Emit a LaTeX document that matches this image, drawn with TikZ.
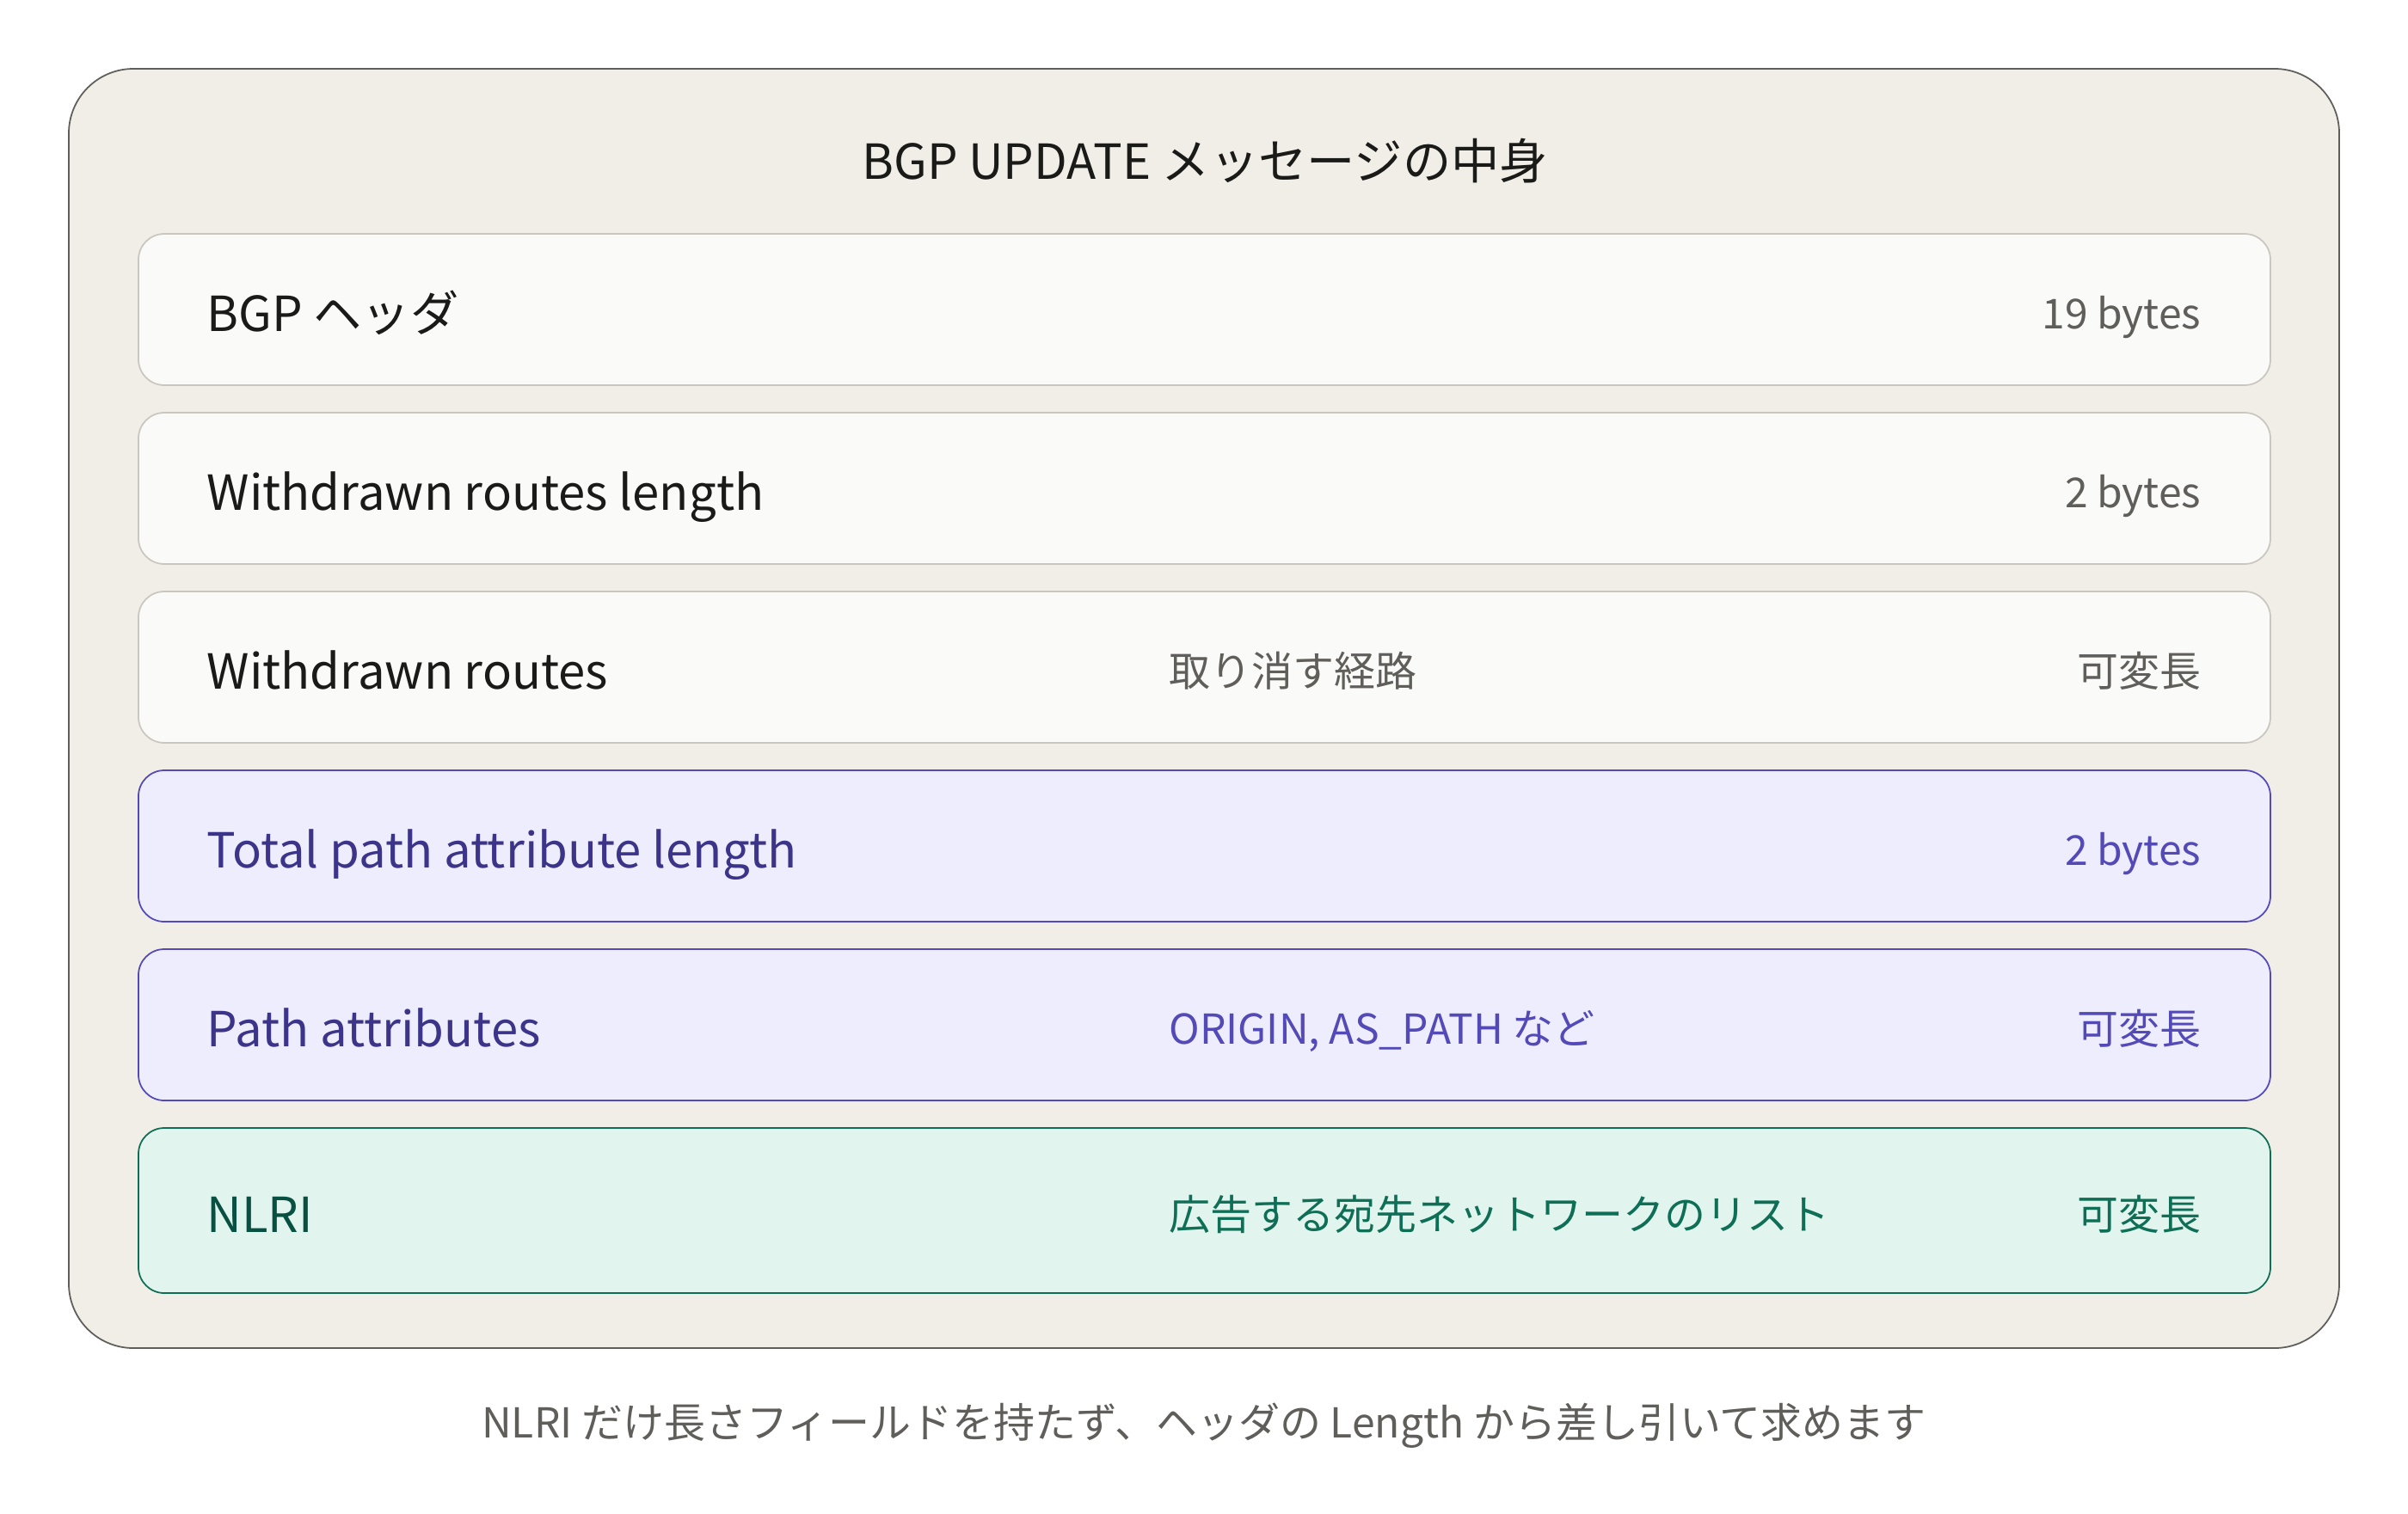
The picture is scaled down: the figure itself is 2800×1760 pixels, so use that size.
\documentclass[tikz,border=0pt]{standalone}
\usepackage{fontspec}
\setmainfont{Noto Sans CJK JP}
\definecolor{framefill}{HTML}{F1EEE8}
\definecolor{frameline}{HTML}{5F5E5A}
\definecolor{inkdark}{HTML}{1A1A18}
\definecolor{inkgray}{HTML}{5F5E5A}
\definecolor{grayfill}{HTML}{FAFAF8}
\definecolor{grayline}{HTML}{C9C7C0}
\definecolor{purplefill}{HTML}{EEEDFE}
\definecolor{purpleline}{HTML}{534AB7}
\definecolor{purpleink}{HTML}{3C3489}
\definecolor{tealfill}{HTML}{E1F4EE}
\definecolor{tealline}{HTML}{0F6E56}
\definecolor{tealink}{HTML}{085041}
\begin{document}
\begin{tikzpicture}[x=0.01cm,y=-0.01cm]
    \tikzstyle{every node}+=[inner sep=0pt]
    \tikzstyle{field}=[line width=0.5pt, rounded corners=0.3cm]
    \tikzstyle{fieldname}=[anchor=base west, font=\fontsize{16}{19}\selectfont]
    \tikzstyle{fieldnote}=[anchor=base west, font=\fontsize{13.65}{16}\selectfont]
    \tikzstyle{fieldsize}=[anchor=base east, font=\fontsize{13.65}{16}\selectfont]
    \useasboundingbox (0,0) rectangle (2800,1760);
    \draw [frameline, fill=framefill, line width=0.5pt, rounded corners=0.75cm] (80,80) rectangle (2720,1568);
    \node [anchor=base, font=\fontsize{16}{19}\selectfont, text=inkdark] (title) at (1401,208) {BGP UPDATE メッセージの中身};
    % header and withdrawn part
    \draw [field, draw=grayline, fill=grayfill] (161,272) rectangle (2640,448);
    \draw [field, draw=grayline, fill=grayfill] (161,480) rectangle (2640,656);
    \draw [field, draw=grayline, fill=grayfill] (161,688) rectangle (2640,864);
    \node [fieldname, text=inkdark] (hdr) at (240,385) {BGP ヘッダ};
    \node [fieldsize, text=inkgray] (hdrsize) at (2560,382) {19 bytes};
    \node [fieldname, text=inkdark] (wdlen) at (240,593) {Withdrawn routes length};
    \node [fieldsize, text=inkgray] (wdlensize) at (2560,590) {2 bytes};
    \node [fieldname, text=inkdark] (wd) at (240,801) {Withdrawn routes};
    \node [fieldnote, text=inkgray] (wdnote) at (1359,798) {取り消す経路};
    \node [fieldsize, text=inkgray] (wdsize) at (2560,798) {可変長};
    % path attributes
    \draw [field, draw=purpleline, fill=purplefill] (161,896) rectangle (2640,1072);
    \draw [field, draw=purpleline, fill=purplefill] (161,1104) rectangle (2640,1280);
    \node [fieldname, text=purpleink] (palen) at (240,1009) {Total path attribute length};
    \node [fieldsize, text=purpleline] (palensize) at (2560,1006) {2 bytes};
    \node [fieldname, text=purpleink] (pa) at (240,1217) {Path attributes};
    \node [fieldnote, text=purpleline] (panote) at (1359,1214) {ORIGIN, AS\_PATH など};
    \node [fieldsize, text=purpleline] (pasize) at (2560,1214) {可変長};
    % nlri
    \draw [field, draw=tealline, fill=tealfill] (161,1312) rectangle (2640,1504);
    \node [fieldname, text=tealink] (nlri) at (240,1433) {NLRI};
    \node [fieldnote, text=tealline] (nlrinote) at (1359,1430) {広告する宛先ネットワークのリスト};
    \node [fieldsize, text=tealline] (nlrisize) at (2560,1430) {可変長};
    \node [anchor=base, font=\fontsize{13.65}{16}\selectfont, text=inkgray] (caption) at (1400,1672) {NLRI だけ長さフィールドを持たず、ヘッダの Length から差し引いて求めます};
\end{tikzpicture}
\end{document}
